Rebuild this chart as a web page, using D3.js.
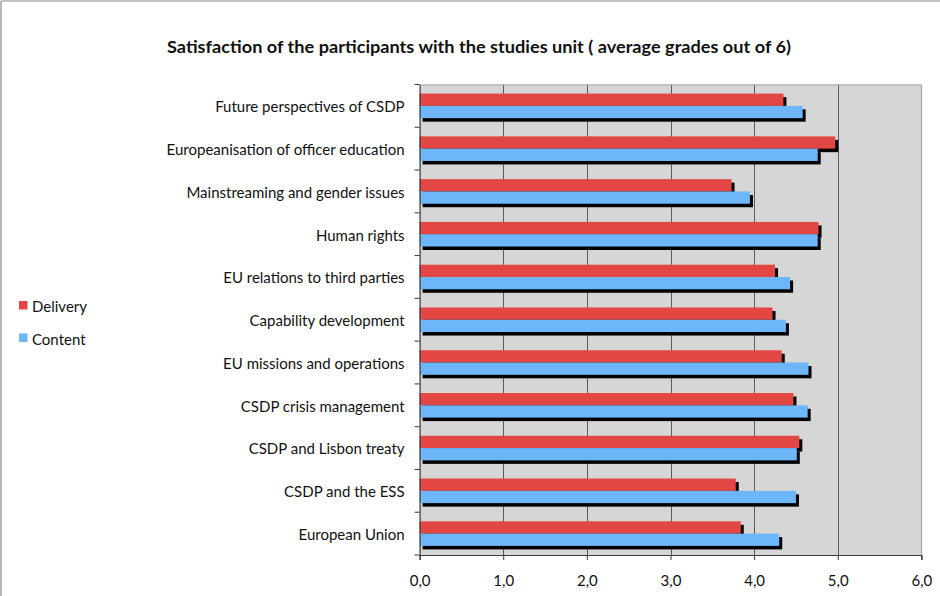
<!DOCTYPE html>
<html>
<head>
<meta charset="utf-8">
<script src="https://cdn.jsdelivr.net/npm/d3@7"></script>
<style>
  html, body { margin: 0; padding: 0; background: #fff; }
  svg { display: block; }
  text { font-family: Lato, "Open Sans", sans-serif; fill: #111; }
</style>
</head>
<body>
<svg id="chart" width="940" height="596"></svg>
<script>
// Topics, listed top to bottom
const categories = [
  "Future perspectives of CSDP",
  "Europeanisation of officer education",
  "Mainstreaming and gender issues",
  "Human rights",
  "EU relations to third parties",
  "Capability development",
  "EU missions and operations",
  "CSDP crisis management",
  "CSDP and Lisbon treaty",
  "CSDP and the ESS",
  "European Union"
];
const seriesNames = ["Delivery", "Content"];
const delivery = [4.35, 4.97, 3.73, 4.77, 4.25, 4.22, 4.33, 4.47, 4.54, 3.78, 3.84];
const content  = [4.58, 4.76, 3.95, 4.76, 4.43, 4.38, 4.65, 4.64, 4.51, 4.50, 4.30];
const xTicks = [0, 1, 2, 3, 4, 5, 6];
const titleText = "Satisfaction of the participants with the studies unit ( average grades out of 6)";

const colors = { Delivery: "#e24744", Content: "#6eb6fa" };

const svg = d3.select("#chart");
const W = 940, H = 596;
const plot = { left: 419.6, right: 921.4, top: 84.5, bottom: 555 };

// Outer frame (left and top edges)
svg.append("line").attr("x1", 1).attr("x2", W).attr("y1", 1).attr("y2", 1)
  .attr("stroke", "#8a8a8a").attr("stroke-width", 1.2);
svg.append("line").attr("x1", 1).attr("x2", 1).attr("y1", 1).attr("y2", H)
  .attr("stroke", "#8a8a8a").attr("stroke-width", 1.2);

// Scales
const x = d3.scaleLinear().domain([0, 6]).range([plot.left, plot.right]);
const y = d3.scaleBand().domain(categories).range([plot.top, plot.bottom]).padding(0);
const ySub = d3.scaleBand().domain(seriesNames).range([0, y.bandwidth()])
  .paddingInner(0).paddingOuter(0.74);

// Plot background
svg.append("rect")
  .attr("x", x(0)).attr("y", plot.top)
  .attr("width", x(6) - x(0)).attr("height", plot.bottom - plot.top)
  .attr("fill", "#d6d6d6");

// Vertical gridlines
svg.append("g").selectAll("line")
  .data(xTicks.filter(t => t > 0 && t < 6))
  .join("line")
  .attr("x1", d => Math.round(x(d)) + 0.5).attr("x2", d => Math.round(x(d)) + 0.5)
  .attr("y1", plot.top).attr("y2", plot.bottom)
  .attr("stroke", "#5c5c5c").attr("stroke-width", 1);

// Plot border (top and right)
svg.append("path")
  .attr("d", `M${x(0)},${plot.top + 0.5}H${Math.round(x(6)) + 0.5}V${plot.bottom}`)
  .attr("fill", "none").attr("stroke", "#a3a3a3").attr("stroke-width", 1.2);

// Rows of bars
const rows = categories.map((c, i) => ({ cat: c, Delivery: delivery[i], Content: content[i] }));
const flat = [];
rows.forEach(r => seriesNames.forEach(s => flat.push({ cat: r.cat, series: s, value: r[s] })));

const shadowDx = 3, shadowDy = 3.5;
const barH = ySub.bandwidth();

// Drop shadows first
svg.append("g").selectAll("rect")
  .data(flat)
  .join("rect")
  .attr("x", x(0) + shadowDx)
  .attr("y", d => y(d.cat) + ySub(d.series) + shadowDy)
  .attr("width", d => x(d.value) - x(0))
  .attr("height", barH)
  .attr("fill", "#000");

// Bars
svg.append("g").selectAll("rect")
  .data(flat)
  .join("rect")
  .attr("x", x(0))
  .attr("y", d => y(d.cat) + ySub(d.series))
  .attr("width", d => x(d.value) - x(0))
  .attr("height", barH)
  .attr("fill", d => colors[d.series]);

// Category axis
const yAxis = d3.axisLeft(y).tickSize(0).tickPadding(15);
const gy = svg.append("g").attr("transform", `translate(${x(0)},0)`).call(yAxis);
gy.select(".domain").attr("stroke", "#3a3a3a").attr("stroke-width", 1.2);
gy.selectAll("text").style("font-size", "15px").attr("fill", "#111")
  .attr("dy", "0.42em");
// boundary ticks between categories
svg.append("g").selectAll("line")
  .data(d3.range(categories.length + 1))
  .join("line")
  .attr("x1", x(0) - 5).attr("x2", x(0))
  .attr("y1", i => plot.top + i * y.step()).attr("y2", i => plot.top + i * y.step())
  .attr("stroke", "#3a3a3a").attr("stroke-width", 1);

// Value axis
const xAxis = d3.axisBottom(x).tickValues(xTicks).tickSize(5).tickPadding(15)
  .tickFormat(d => d3.format(".1f")(d).replace(".", ","));
const gx = svg.append("g").attr("transform", `translate(0,${plot.bottom})`).call(xAxis);
gx.select(".domain").attr("stroke", "#3a3a3a").attr("stroke-width", 1.2);
gx.selectAll(".tick line").attr("stroke", "#3a3a3a");
gx.selectAll("text").style("font-size", "15px").attr("fill", "#111");

// Title
svg.append("text")
  .attr("x", 479).attr("y", 53)
  .attr("text-anchor", "middle")
  .attr("textLength", 624).attr("lengthAdjust", "spacingAndGlyphs")
  .style("font-size", "17.5px").style("font-weight", "bold")
  .text(titleText);

// Legend
const legend = svg.append("g");
seriesNames.forEach((s, i) => {
  const ly = 301 + i * 32.5;
  legend.append("rect").attr("x", 19).attr("y", ly).attr("width", 8.5).attr("height", 8.5)
    .attr("fill", colors[s]);
  legend.append("text").attr("x", 32).attr("y", ly + 11)
    .style("font-size", "15px").text(s);
});
</script>
</body>
</html>
